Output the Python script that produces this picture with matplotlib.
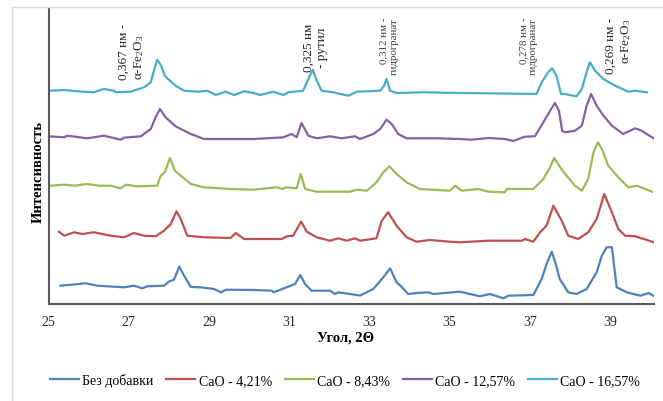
import matplotlib
matplotlib.use("Agg")
import matplotlib.pyplot as plt
from matplotlib.lines import Line2D

plt.rcParams["font.family"] = ["Liberation Serif", "DejaVu Serif"]
plt.rcParams["mathtext.default"] = "regular"

# 2θ (deg) and intensity (arbitrary units, stacked with offsets as in the source)
bez = [(25.30, 18.3), (25.93, 20.7), (26.22, 18.3), (26.88, 16.7), (27.13, 18.3), (27.34, 15.7),
       (27.46, 17.7), (27.88, 18.3), (28.00, 22.3), (28.13, 24.3), (28.26, 37.5), (28.38, 28.3),
       (28.55, 17.0), (28.80, 16.7), (29.13, 15.0), (29.30, 11.7), (29.43, 14.3), (30.12, 14.0),
       (30.57, 13.3), (30.61, 11.7), (30.94, 16.7), (31.15, 20.0), (31.28, 29.0), (31.40, 20.0),
       (31.56, 13.3), (32.02, 13.3), (32.14, 10.0), (32.23, 11.7), (32.52, 10.0), (32.77, 8.5),
       (33.10, 15.0), (33.35, 26.7), (33.52, 35.7), (33.68, 21.7), (33.81, 17.0), (33.97, 10.0),
       (34.18, 11.0), (34.47, 11.7), (34.60, 10.0), (35.26, 12.3), (35.76, 7.7), (36.01, 10.0),
       (36.34, 5.7), (36.47, 8.3), (37.09, 9.0), (37.30, 25.0), (37.42, 40.0), (37.55, 52.3),
       (37.65, 40.0), (37.75, 25.0), (37.96, 11.7), (38.17, 10.0), (38.42, 15.0), (38.67, 31.7),
       (38.80, 48.3), (38.92, 56.7), (39.05, 56.7), (39.10, 40.0), (39.17, 16.7), (39.42, 11.7),
       (39.76, 8.3), (39.97, 11.0), (40.08, 8.3)]

cao_421 = [(25.26, 72.3), (25.39, 68.3), (25.64, 71.7), (25.84, 70.0), (26.13, 71.7), (26.55, 68.3),
           (26.88, 66.7), (27.13, 71.0), (27.38, 68.3), (27.67, 67.7), (27.88, 73.3), (28.05, 80.0),
           (28.19, 92.7), (28.30, 85.0), (28.46, 68.3), (28.88, 66.7), (29.54, 66.0), (29.67, 71.0),
           (29.88, 65.0), (30.12, 65.0), (30.82, 65.0), (30.94, 67.7), (31.10, 68.3), (31.30, 82.3),
           (31.44, 72.3), (31.69, 66.7), (32.02, 63.3), (32.23, 65.7), (32.44, 63.3), (32.64, 65.7),
           (32.77, 63.3), (33.18, 65.7), (33.31, 83.3), (33.47, 91.7), (33.68, 78.3), (33.93, 66.7),
           (34.18, 62.3), (34.51, 64.0), (35.01, 62.3), (35.26, 61.7), (35.97, 63.3), (36.80, 63.3),
           (36.88, 65.0), (37.09, 62.3), (37.26, 71.7), (37.42, 78.3), (37.59, 98.3), (37.80, 83.3),
           (37.96, 68.3), (38.21, 65.0), (38.46, 71.7), (38.67, 85.0), (38.86, 110.0), (39.05, 91.7),
           (39.21, 75.0), (39.38, 68.3), (39.63, 67.7), (39.79, 65.7), (40.10, 61.7)]

cao_843 = [(25.05, 118.3), (25.39, 119.3), (25.64, 118.3), (25.97, 120.0), (26.26, 118.3), (26.55, 118.3),
           (26.80, 115.7), (26.93, 119.3), (27.21, 117.7), (27.71, 118.3), (27.80, 128.3), (27.90, 131.7),
           (28.03, 146.0), (28.15, 133.3), (28.30, 128.3), (28.55, 120.0), (28.88, 116.7), (29.54, 115.0),
           (30.12, 114.3), (30.69, 116.7), (30.82, 115.0), (30.94, 116.7), (31.19, 115.7), (31.29, 130.0),
           (31.40, 115.0), (31.69, 112.3), (32.52, 112.3), (32.69, 114.3), (32.94, 113.3), (33.18, 121.7),
           (33.35, 131.7), (33.50, 137.7), (33.68, 130.0), (33.93, 121.7), (34.26, 115.0), (35.01, 113.3),
           (35.14, 118.3), (35.30, 113.3), (35.72, 115.0), (35.97, 112.3), (36.38, 111.7), (36.43, 115.0),
           (37.09, 115.0), (37.34, 125.0), (37.51, 136.7), (37.61, 146.0), (37.76, 136.7), (37.92, 128.3),
           (38.13, 118.3), (38.30, 113.3), (38.46, 125.0), (38.59, 151.7), (38.70, 161.7), (38.80, 155.0),
           (38.96, 138.3), (39.21, 126.7), (39.46, 116.7), (39.67, 118.3), (39.84, 115.7), (40.05, 112.3)]

cao_1257 = [(25.01, 167.7), (25.39, 166.7), (25.47, 168.3), (25.97, 165.7), (26.38, 168.3), (26.80, 164.3),
            (26.88, 166.3), (27.30, 167.7), (27.55, 175.0), (27.67, 186.7), (27.78, 195.0), (27.92, 186.7),
            (28.17, 177.7), (28.55, 170.0), (28.88, 165.0), (29.54, 165.0), (30.12, 165.0), (30.86, 166.7),
            (31.06, 170.0), (31.19, 166.7), (31.31, 181.0), (31.48, 168.3), (31.69, 165.7), (32.02, 167.7),
            (32.31, 165.7), (32.64, 167.7), (32.77, 165.0), (33.10, 170.0), (33.27, 175.0), (33.43, 184.3),
            (33.56, 180.0), (33.72, 170.0), (33.93, 165.7), (34.68, 165.7), (35.26, 165.0), (35.55, 164.3),
            (35.97, 166.0), (36.38, 165.0), (36.59, 163.0), (36.88, 167.3), (37.13, 167.7), (37.34, 181.7),
            (37.51, 193.3), (37.63, 201.0), (37.73, 193.3), (37.81, 173.3), (37.88, 171.7), (38.13, 173.3),
            (38.30, 178.3), (38.42, 198.3), (38.53, 210.0), (38.67, 198.3), (38.84, 188.3), (39.05, 178.3),
            (39.33, 170.0), (39.63, 175.7), (39.79, 173.3), (40.09, 165.7)]

cao_1657 = [(25.01, 213.3), (25.39, 214.0), (25.72, 212.7), (26.13, 211.7), (26.38, 215.0), (26.63, 213.3),
            (26.68, 211.7), (27.05, 212.3), (27.38, 216.7), (27.55, 221.7), (27.63, 233.3), (27.71, 244.3),
            (27.81, 238.3), (27.90, 228.3), (28.00, 224.3), (28.17, 218.3), (28.38, 213.3), (28.75, 212.3),
            (28.96, 213.3), (29.17, 209.0), (29.42, 212.3), (29.63, 209.0), (29.88, 212.7), (30.12, 211.0),
            (30.27, 209.0), (30.61, 212.3), (30.86, 209.0), (30.98, 211.7), (31.35, 213.3), (31.48, 225.0),
            (31.59, 234.3), (31.69, 223.3), (31.81, 213.3), (32.10, 211.7), (32.48, 208.3), (32.69, 212.3),
            (33.27, 213.3), (33.37, 218.3), (33.43, 225.0), (33.52, 213.3), (33.68, 211.0), (34.35, 211.7),
            (35.26, 211.0), (35.97, 210.7), (37.17, 210.0), (37.30, 221.7), (37.46, 231.7), (37.56, 235.7),
            (37.67, 228.3), (37.78, 210.0), (37.88, 210.0), (38.17, 207.7), (38.30, 215.0), (38.42, 231.7),
            (38.50, 241.7), (38.63, 233.3), (38.84, 225.0), (39.13, 218.3), (39.46, 212.3), (39.63, 213.3),
            (39.92, 211.7)]

series_names = ["Без добавки", "CaO - 4,21%", "CaO - 8,43%", "CaO - 12,57%", "CaO - 16,57%"]
series_data = [bez, cao_421, cao_843, cao_1257, cao_1657]
colors = ["#4F81BD", "#C0504D", "#9BBB59", "#8064A2", "#4BACC6"]

x_ticks = [25, 27, 29, 31, 33, 35, 37, 39]

fig = plt.figure(figsize=(6.63, 4.02), dpi=100)
ax = fig.add_axes([48.5 / 663, 97 / 402, 605.5 / 663, 295 / 402])

for name, data, c in zip(series_names, series_data, colors):
    xs = [p[0] for p in data]
    ys = [p[1] for p in data]
    ax.plot(xs, ys, color=c, lw=1.6, label=name, solid_joinstyle="round")

ax.set_xlim(25, 40.1)
ax.set_ylim(0, 295)
ax.set_xticks(x_ticks)
ax.set_xticklabels([str(t) for t in x_ticks], fontsize=10, color="#262626")
ax.tick_params(axis="x", length=0, pad=8)
ax.set_yticks([])
for s in ["top", "right"]:
    ax.spines[s].set_visible(False)
for s in ["left", "bottom"]:
    ax.spines[s].set_color("#595959")
    ax.spines[s].set_linewidth(1.5)

# peak annotations
ax.text(27.08, 225, "0,367 нм -\nα-Fe$_2$O$_3$", rotation=90, fontsize=9.5,
        ha="center", va="bottom", multialignment="left", color="#262626")
ax.text(31.65, 233, "0,325 нм\n- рутил", rotation=90, fontsize=9.5,
        ha="center", va="bottom", multialignment="center", color="#262626")
ax.text(33.50, 287, "0,312 нм -\nгидрогранат", rotation=90, fontsize=7.8,
        ha="center", va="top", multialignment="right", color="#404040")
ax.text(36.97, 287, "0,278 нм -\nгидрогранат", rotation=90, fontsize=7.8,
        ha="center", va="top", multialignment="right", color="#404040")
ax.text(39.23, 287, "0,269 нм -\nα-Fe$_2$O$_3$", rotation=90, fontsize=9.5,
        ha="center", va="top", multialignment="right", color="#262626")

fig.text(38 / 663, 1 - 172 / 402, "Интенсивность", rotation=90, fontsize=10.5,
         fontweight="bold", ha="center", va="center")
fig.text(346 / 663, 1 - 338 / 402, "Угол, 2Θ", fontsize=10.5, fontweight="bold",
         ha="center", va="center")

fig.legend(loc="center", bbox_to_anchor=(345 / 663, 1 - 381 / 402), ncol=5, frameon=False,
           fontsize=10, handlelength=2.1, handletextpad=0.25, columnspacing=0.9)

# light chart-area border
fig.add_artist(Line2D([12 / 663, 12 / 663], [0, 1 - 8 / 402], color="#d9d9d9", lw=1))
fig.add_artist(Line2D([12 / 663, 1], [1 - 8 / 402, 1 - 8 / 402], color="#d9d9d9", lw=1))

fig.savefig("out.png", dpi=100)
